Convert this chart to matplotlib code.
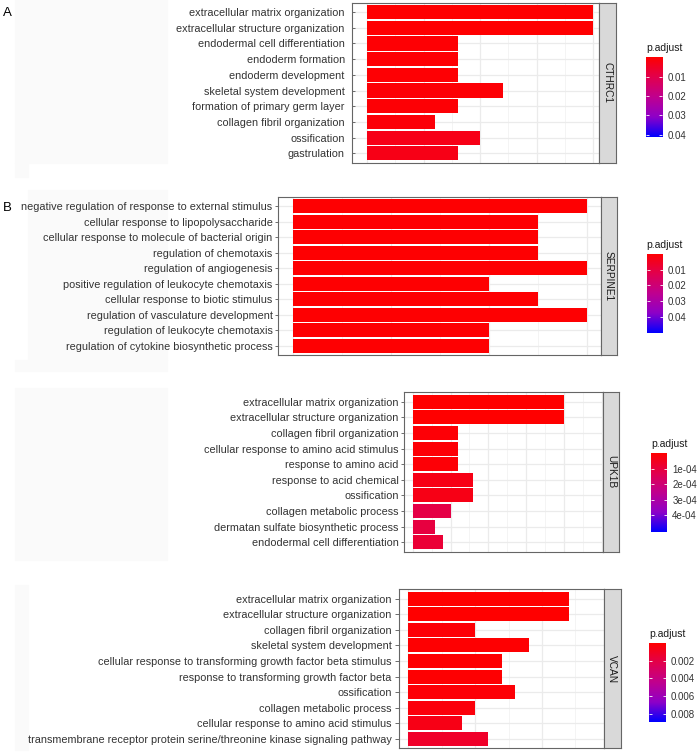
"""
plot.py

GO enrichment barplots (CTHRC1, SERPINE1, UPK1B, VCAN) redrawn in matplotlib
in the style of the clusterProfiler/ggplot figure.
"""
import numpy as np
import matplotlib
matplotlib.use('Agg')
import matplotlib.pyplot as plt
from matplotlib.colors import LinearSegmentedColormap, Normalize
from matplotlib.patches import Rectangle

plt.rcParams['font.family'] = ['Liberation Sans', 'DejaVu Sans']

# ---- data ----
cthrc1_terms = ['extracellular matrix organization', 'extracellular structure organization',
                'endodermal cell differentiation', 'endoderm formation', 'endoderm development',
                'skeletal system development', 'formation of primary germ layer',
                'collagen fibril organization', 'ossification', 'gastrulation']
cthrc1_count = [10, 10, 4, 4, 4, 6, 4, 3, 5, 4]
cthrc1_padj = [0.0003, 0.0003, 0.0006, 0.0006, 0.0006, 0.0008, 0.0008, 0.0012, 0.003, 0.003]
cthrc1_prange = [0.0, 0.041]
cthrc1_pticks = [0.01, 0.02, 0.03, 0.04]
cthrc1_plabels = ['0.01', '0.02', '0.03', '0.04']

serpine1_terms = ['negative regulation of response to external stimulus',
                  'cellular response to lipopolysaccharide',
                  'cellular response to molecule of bacterial origin',
                  'regulation of chemotaxis', 'regulation of angiogenesis',
                  'positive regulation of leukocyte chemotaxis',
                  'cellular response to biotic stimulus', 'regulation of vasculature development',
                  'regulation of leukocyte chemotaxis', 'regulation of cytokine biosynthetic process']
serpine1_count = [6, 5, 5, 5, 6, 4, 5, 6, 4, 4]
serpine1_padj = [0.0004, 0.0004, 0.0004, 0.0004, 0.0004, 0.0004, 0.0004, 0.0004, 0.0004, 0.0004]
serpine1_prange = [0.0, 0.0505]
serpine1_pticks = [0.01, 0.02, 0.03, 0.04]
serpine1_plabels = ['0.01', '0.02', '0.03', '0.04']

upk1b_terms = ['extracellular matrix organization', 'extracellular structure organization',
               'collagen fibril organization', 'cellular response to amino acid stimulus',
               'response to amino acid', 'response to acid chemical', 'ossification',
               'collagen metabolic process', 'dermatan sulfate biosynthetic process',
               'endodermal cell differentiation']
upk1b_count = [20, 20, 6, 6, 6, 8, 8, 5, 3, 4]
upk1b_padj = [2e-7, 2e-7, 1e-5, 1e-5, 1e-5, 3.5e-5, 3.5e-5, 1.15e-4, 1.05e-4, 0.9e-4]
upk1b_prange = [0.0, 5.05e-4]
upk1b_pticks = [1e-4, 2e-4, 3e-4, 4e-4]
upk1b_plabels = ['1e-04', '2e-04', '3e-04', '4e-04']

vcan_terms = ['extracellular matrix organization', 'extracellular structure organization',
              'collagen fibril organization', 'skeletal system development',
              'cellular response to transforming growth factor beta stimulus',
              'response to transforming growth factor beta', 'ossification',
              'collagen metabolic process', 'cellular response to amino acid stimulus',
              'transmembrane receptor protein serine/threonine kinase signaling pathway']
vcan_count = [12, 12, 5, 9, 7, 7, 8, 5, 4, 6]
vcan_padj = [1e-6, 1e-6, 2e-4, 1e-4, 1e-4, 1e-4, 2e-4, 3e-4, 6e-4, 1.2e-3]
vcan_prange = [0.0, 0.009]
vcan_pticks = [0.002, 0.004, 0.006, 0.008]
vcan_plabels = ['0.002', '0.004', '0.006', '0.008']

# red (low p.adjust) -> blue (high p.adjust)
cmap = LinearSegmentedColormap.from_list(
    'padj', [(0, '#FF0000'), (0.25, '#E2004D'), (0.5, '#C0008F'),
             (0.75, '#8E00C8'), (1, '#0000FF')])

W, H = 698, 753
BORDER = '#666666'
GRID = '#EBEBEB'
TEXT = '#333333'


def box(l, t, r, b):
    # pixel box (top-left origin) -> figure fraction
    return [l / W, 1 - b / H, (r - l) / W, (b - t) / H]


def draw_panel(fig, terms, counts, padj, prange, pticks, plabels, gene,
               plot_px, strip_right, xlim, major, minor, cbar_px,
               tickdir='out', ticklen=2.2, tickpad=1.5):
    norm = Normalize(vmin=prange[0], vmax=prange[1])
    n = len(terms)
    y = np.arange(n)

    ax = fig.add_axes(box(*plot_px))
    ax.set_axisbelow(True)
    for xv in minor:
        ax.axvline(xv, color='#F2F2F2', lw=0.6, zorder=0)
    for xv in major:
        ax.axvline(xv, color=GRID, lw=0.9, zorder=0)
    for yv in y:
        ax.axhline(yv, color=GRID, lw=0.9, zorder=0)
    ax.barh(y, counts, height=0.9, color=cmap(norm(np.array(padj))), zorder=2)
    ax.set_xlim(*xlim)
    ax.set_ylim(n - 0.4, -0.6)
    ax.set_xticks([])
    ax.set_yticks(y)
    ax.set_yticklabels(terms, fontsize=7.8, color=TEXT)
    ax.tick_params(axis='y', direction=tickdir, length=ticklen, width=0.6,
                   color='#555555', pad=tickpad)
    for s in ax.spines.values():
        s.set_color(BORDER)
        s.set_linewidth(0.8)

    # facet strip
    l, t, r, b = plot_px
    sax = fig.add_axes(box(r, t, strip_right, b))
    sax.set_facecolor('#D9D9D9')
    sax.set_xticks([])
    sax.set_yticks([])
    for s in sax.spines.values():
        s.set_color(BORDER)
        s.set_linewidth(0.8)
    sax.text(0.5, 0.5, gene, rotation=-90, ha='center', va='center',
             fontsize=7.3, color='#1A1A1A', transform=sax.transAxes)

    # colour bar (low values on top, like the ggplot legend)
    cax = fig.add_axes(box(*cbar_px))
    grad = np.linspace(prange[0], prange[1], 256)[:, None]
    cax.imshow(grad, aspect='auto', cmap=cmap, norm=norm,
               extent=[0, 1, prange[1], prange[0]])
    cax.set_xticks([])
    cax.set_yticks(pticks)
    cax.set_yticklabels(plabels, fontsize=7, color=TEXT)
    cax.tick_params(axis='y', left=True, right=True, labelleft=False, labelright=True,
                    direction='in', length=2.2, width=0.6, color='white', pad=3.6)
    for s in cax.spines.values():
        s.set_visible(False)
    fig.text(cbar_px[0] / W, 1 - (cbar_px[1] - 4) / H, 'p.adjust',
             fontsize=7.5, color='#1A1A1A', ha='left', va='bottom')


fig = plt.figure(figsize=(W / 100, H / 100), dpi=100, facecolor='white')

# faint background blocks left over from the composite figure
for (l, t, r, b) in [(15, 0, 167, 163), (15, 163, 28, 177), (28, 190, 167, 360),
                     (15, 360, 167, 371), (15, 388, 167, 560), (15, 585, 28, 750)]:
    fig.patches.append(Rectangle((l / W, 1 - b / H), (r - l) / W, (b - t) / H,
                                 transform=fig.transFigure, color='#FAFAFA',
                                 zorder=-10))

draw_panel(fig, cthrc1_terms, cthrc1_count, cthrc1_padj, cthrc1_prange,
           cthrc1_pticks, cthrc1_plabels, 'CTHRC1',
           (351.7, 2.7, 599.3, 162.7), 615.7, (-0.69, 10.28),
           [0, 2.5, 5, 7.5, 10], [1.25, 3.75, 6.25, 8.75],
           (646, 57.3, 662.3, 136.7), tickdir='in', ticklen=2.2, tickpad=5)

draw_panel(fig, serpine1_terms, serpine1_count, serpine1_padj, serpine1_prange,
           serpine1_pticks, serpine1_plabels, 'SERPINE1',
           (277.7, 196.7, 601, 355.3), 616.7, (-0.31, 6.29),
           [0, 2, 4, 6], [1, 3, 5],
           (646.7, 254, 662.7, 333.3))

draw_panel(fig, upk1b_terms, upk1b_count, upk1b_padj, upk1b_prange,
           upk1b_pticks, upk1b_plabels, 'UPK1B',
           (404, 392.3, 603.3, 551.7), 619.3, (-1.15, 25.2),
           [0, 5, 10, 15, 20, 25], [2.5, 7.5, 12.5, 17.5, 22.5],
           (651.3, 453.3, 667.3, 531.7))

draw_panel(fig, vcan_terms, vcan_count, vcan_padj, vcan_prange,
           vcan_pticks, vcan_plabels, 'VCAN',
           (399, 589.3, 604, 748.3), 620.7, (-0.70, 14.65),
           [0, 5, 10], [2.5, 7.5, 12.5],
           (649.3, 643.3, 665.7, 722.3), ticklen=2.9, tickpad=2.5)

fig.text(3 / W, 1 - 13 / H, 'A', fontsize=9.5, color='black', va='center', ha='left')
fig.text(3 / W, 1 - 208 / H, 'B', fontsize=9.5, color='black', va='center', ha='left')

fig.savefig('out.png', dpi=100, facecolor='white')
